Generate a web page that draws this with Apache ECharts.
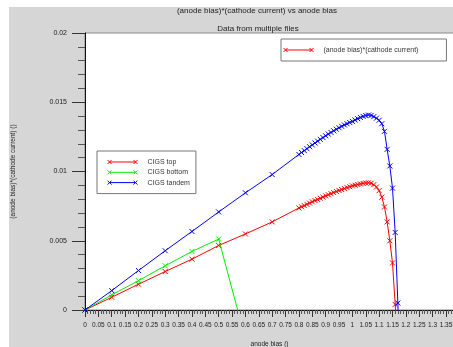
<!DOCTYPE html>
<html>
<head>
<meta charset="utf-8">
<script src="https://cdn.jsdelivr.net/npm/echarts@6/dist/echarts.min.js"></script>
<style>
  html, body { margin: 0; padding: 0; background: #fff; }
  #main1 { width: 453px; height: 347px; }
</style>
</head>
<body>
<div id="main1"></div>
<script>
// anode bias (x) and bias*current (y)
var biasTop = [0, 0.1, 0.2, 0.3, 0.4, 0.5, 0.6, 0.7,
    0.8, 0.81, 0.82, 0.83, 0.84, 0.85, 0.86, 0.87, 0.88, 0.89,
    0.9, 0.91, 0.92, 0.93, 0.94, 0.95, 0.96, 0.97, 0.98, 0.99,
    1.0, 1.01, 1.02, 1.03, 1.04, 1.05, 1.06, 1.07, 1.08, 1.09,
    1.1, 1.11, 1.12, 1.13, 1.14, 1.15, 1.16, 1.17];
var powerTop = [0, 0.00092, 0.00186, 0.00278, 0.00367, 0.00466, 0.00549, 0.00636,
    0.00737, 0.00745, 0.00754, 0.00763, 0.00772, 0.00781, 0.00790, 0.00798, 0.00807, 0.00815,
    0.00824, 0.00832, 0.00840, 0.00848, 0.00856, 0.00863, 0.00870, 0.00877, 0.00884, 0.00890,
    0.00896, 0.00901, 0.00906, 0.00910, 0.00914, 0.00917, 0.00918, 0.00915, 0.00905, 0.00888,
    0.00862, 0.00815, 0.00744, 0.00636, 0.00500, 0.00340, 0.00040, -0.0025];

var biasBottom = [0, 0.1, 0.2, 0.3, 0.4, 0.5, 0.6];
var powerBottom = [0, 0.00109, 0.00212, 0.00319, 0.00423, 0.00512, -0.0021];

var biasTandem = [0, 0.1, 0.2, 0.3, 0.4, 0.5, 0.6, 0.7,
    0.8, 0.81, 0.82, 0.83, 0.84, 0.85, 0.86, 0.87, 0.88, 0.89,
    0.9, 0.91, 0.92, 0.93, 0.94, 0.95, 0.96, 0.97, 0.98, 0.99,
    1.0, 1.01, 1.02, 1.03, 1.04, 1.05, 1.06, 1.07, 1.08, 1.09,
    1.1, 1.11, 1.12, 1.13, 1.14, 1.15, 1.16, 1.17, 1.18];
var powerTandem = [0, 0.0014, 0.00285, 0.00428, 0.00567, 0.00708, 0.00846, 0.00978,
    0.01123, 0.01137, 0.01151, 0.01165, 0.01179, 0.01192, 0.01206, 0.01219, 0.01232, 0.01245,
    0.01258, 0.01270, 0.01282, 0.01294, 0.01305, 0.01316, 0.01326, 0.01336, 0.01345, 0.01354,
    0.01362, 0.01372, 0.01381, 0.01390, 0.01398, 0.01404, 0.01408, 0.01405, 0.01396, 0.01385,
    0.01370, 0.01345, 0.01290, 0.01160, 0.01040, 0.00880, 0.00560, 0.00050, -0.005];

var seriesNames = ['CIGS top', 'CIGS bottom', 'CIGS tandem'];
var seriesColors = ['#ff0000', '#00ee00', '#0000ff'];
var mainName = '(anode bias)*(cathode current)';

drawMain1();

function drawMain1() {
    var myChart = echarts.init(document.getElementById('main1'));

    var crossSymbol = 'path://M0,0L5,5M0,5L5,0';
    var legendIcon = 'path://M0,0L4,4M0,4L4,0M2,2L28,2M26,0L30,4M26,4L30,0M35,2';
    var font = 'Liberation Sans, Arial, sans-serif';

    // 把x和y拼成点
    function toPairs(xs, ys) {
        var out = [];
        for (var i = 0; i < xs.length; i++) {
            out.push([xs[i], ys[i]]);
        }
        return out;
    }

    function makeSeries(name, color, data) {
        return {
            name: name,
            type: 'line',
            data: data,
            symbol: crossSymbol,
            symbolSize: 5,
            showSymbol: true,
            clip: true,
            lineStyle: { color: color, width: 1 },
            itemStyle: { color: 'transparent', borderColor: color, borderWidth: 1 },
            emphasis: { disabled: true }
        };
    }

    function legendItem(name, color) {
        return {
            name: name,
            icon: legendIcon,
            itemStyle: { color: 'transparent', borderColor: color, borderWidth: 1 }
        };
    }

    var option = {
        backgroundColor: '#fff',
        animation: false,
        graphic: [{
            type: 'rect',
            silent: true,
            z: -10,
            shape: { x: 9, y: 7, width: 444, height: 340 },
            style: { fill: '#d6d6d6' }
        }],
        title: [{
            text: '(anode bias)*(cathode current) vs anode bias',
            left: 257,
            top: 7,
            textAlign: 'center',
            padding: 0,
            textStyle: { fontSize: 8, fontWeight: 'normal', color: '#222', fontFamily: font }
        }, {
            text: 'Data from multiple files',
            left: 258,
            top: 25,
            textAlign: 'center',
            padding: 0,
            textStyle: { fontSize: 8, fontWeight: 'normal', color: '#222', fontFamily: font }
        }],
        legend: [{
            data: [legendItem(mainName, seriesColors[0])],
            left: 281,
            top: 39,
            orient: 'horizontal',
            padding: [7, 28, 7, 2],
            itemWidth: 35,
            itemHeight: 4,
            backgroundColor: '#fff',
            borderColor: '#777',
            borderWidth: 1,
            selectedMode: false,
            textStyle: { fontSize: 7, color: '#333', fontFamily: font, lineHeight: 8 }
        }, {
            data: [
                legendItem(seriesNames[0], seriesColors[0]),
                legendItem(seriesNames[1], seriesColors[1]),
                legendItem(seriesNames[2], seriesColors[2])
            ],
            left: 97,
            top: 151,
            orient: 'vertical',
            padding: [7, 6, 7, 10],
            itemGap: 2.3,
            itemWidth: 35,
            itemHeight: 4,
            backgroundColor: '#fff',
            borderColor: '#777',
            borderWidth: 1,
            selectedMode: false,
            textStyle: { fontSize: 7, color: '#333', fontFamily: font, lineHeight: 8 }
        }],
        grid: {
            left: 85,
            top: 33,
            right: -1,
            bottom: 37,
            outerBoundsMode: 'none',
            containLabel: false,
            show: true,
            backgroundColor: '#fff',
            borderColor: '#888',
            borderWidth: 1
        },
        xAxis: {
            type: 'value',
            min: 0,
            max: 1.38,
            interval: 0.05,
            name: 'anode bias ()',
            nameLocation: 'middle',
            nameGap: 31,
            nameTextStyle: { fontSize: 6.5, color: '#222', fontFamily: font },
            axisLine: { lineStyle: { color: '#111', width: 1 } },
            axisTick: { length: 7, lineStyle: { color: '#333' } },
            minorTick: { show: true, splitNumber: 5, length: 4, lineStyle: { color: '#555' } },
            splitLine: { show: false },
            axisLabel: {
                interval: 0,
                margin: 12,
                showMaxLabel: false,
                fontSize: 6.5,
                color: '#222',
                fontFamily: font
            }
        },
        yAxis: {
            type: 'value',
            min: 0,
            max: 0.02,
            interval: 0.005,
            name: '(anode bias)*(cathode current) ()',
            nameLocation: 'middle',
            nameGap: 68,
            nameTextStyle: { fontSize: 6.5, color: '#222', fontFamily: font },
            axisLine: { show: true, lineStyle: { color: '#111', width: 1 } },
            axisTick: { show: true, length: 13, lineStyle: { color: '#333' } },
            minorTick: { show: true, splitNumber: 5, length: 7, lineStyle: { color: '#555' } },
            splitLine: { show: false },
            axisLabel: { margin: 18, fontSize: 7, color: '#222', fontFamily: font }
        },
        series: [
            makeSeries(mainName, seriesColors[0], []),
            makeSeries(seriesNames[0], seriesColors[0], toPairs(biasTop, powerTop)),
            makeSeries(seriesNames[1], seriesColors[1], toPairs(biasBottom, powerBottom)),
            makeSeries(seriesNames[2], seriesColors[2], toPairs(biasTandem, powerTandem))
        ]
    };

    myChart.setOption(option);
}
</script>
</body>
</html>
